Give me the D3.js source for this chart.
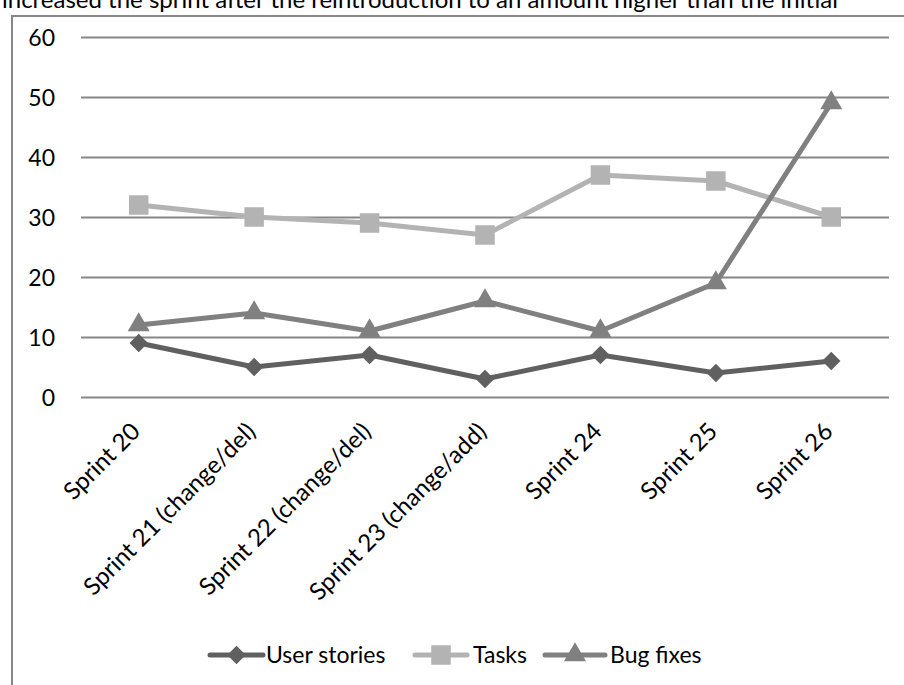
<!DOCTYPE html>
<html>
<head>
<meta charset="utf-8">
<script src="https://cdn.jsdelivr.net/npm/d3@7"></script>
<style>
  html, body { margin: 0; padding: 0; background: #fff; }
  svg { display: block; font-family: Lato, "Open Sans", sans-serif; }
</style>
</head>
<body>
<script>
// Work items completed per sprint
const sprints = ["Sprint 20", "Sprint 21 (change/del)", "Sprint 22 (change/del)",
  "Sprint 23 (change/add)", "Sprint 24", "Sprint 25", "Sprint 26"];
const userStories = [9, 5, 7, 3, 7, 4, 6];
const tasks = [32, 30, 29, 27, 37, 36, 30];
const bugFixes = [12, 14, 11, 16, 11, 19, 49];
const yTicks = [0, 10, 20, 30, 40, 50, 60];
const seriesNames = ["User stories", "Tasks", "Bug fixes"];

const W = 904, H = 685;
const FONT = "Lato, 'Open Sans', sans-serif";
const svg = d3.select("body").append("svg").attr("width", W).attr("height", H);

// running text above the figure, cut by the page edge
svg.append("text").attr("x", 2).attr("y", 8)
  .attr("font-size", 24).attr("fill", "#000")
  .text("increased the sprint after the reintroduction to an amount higher than the initial");

// figure frame
svg.append("rect").attr("x", 12).attr("y", 16).attr("width", 1000).attr("height", 800)
  .attr("fill", "none").attr("stroke", "#878787").attr("stroke-width", 2);

const x = d3.scaleBand().domain(sprints).range([81, 889]);
const y = d3.scaleLinear().domain([0, 60]).range([397, 37]);
const cx = d => x(d) + x.bandwidth() / 2;

// value axis with gridlines
const yAxis = d3.axisLeft(y).tickValues(yTicks).tickSize(-(889 - 81)).tickPadding(26);
const gy = svg.append("g").attr("transform", "translate(81,0)").call(yAxis);
gy.select(".domain").remove();
gy.selectAll(".tick line").attr("stroke", "#868686").attr("stroke-width", 2);
gy.selectAll(".tick text").attr("font-size", 23).attr("fill", "#000")
  .attr("font-family", FONT).attr("dy", "0.36em");

// category labels, slanted
const xAxis = d3.axisBottom(x).tickSize(0).tickPadding(0);
const gx = svg.append("g").attr("transform", "translate(0,397)").call(xAxis);
gx.select(".domain").remove();
gx.selectAll(".tick text")
  .attr("font-size", 24).attr("fill", "#000")
  .attr("font-family", FONT)
  .attr("text-anchor", "end")
  .attr("y", 0).attr("dy", 0)
  .attr("transform", "translate(3,36) rotate(-45)");

const series = [
  { name: seriesNames[0], values: userStories, color: "#606060", shape: d3.symbolSquare, size: 170, rot: 45 },
  { name: seriesNames[1], values: tasks, color: "#b3b3b3", shape: d3.symbolSquare, size: 380, rot: 0 },
  { name: seriesNames[2], values: bugFixes, color: "#808080", shape: d3.symbolTriangle, size: 210, rot: 0 }
];

const line = d3.line().x((d, i) => cx(sprints[i])).y(d => y(d));

// draw order: tasks, bug fixes, user stories
[series[1], series[2], series[0]].forEach(s => {
  svg.append("path").datum(s.values).attr("d", line)
    .attr("fill", "none").attr("stroke", s.color).attr("stroke-width", 5)
    .attr("stroke-linejoin", "round");
  const sym = d3.symbol().type(s.shape).size(s.size);
  svg.selectAll(null).data(s.values).enter().append("path")
    .attr("d", sym)
    .attr("transform", (d, i) => `translate(${cx(sprints[i])},${y(d)}) rotate(${s.rot})`)
    .attr("fill", s.color);
});

// legend
const legendItems = [
  { s: series[0], x0: 210, x1: 263, tx: 266 },
  { s: series[1], x0: 415, x1: 467, tx: 473 },
  { s: series[2], x0: 545, x1: 605, tx: 610 }
];
legendItems.forEach(({ s, x0, x1, tx }) => {
  const ly = 655;
  svg.append("line").attr("x1", x0).attr("x2", x1).attr("y1", ly).attr("y2", ly)
    .attr("stroke", s.color).attr("stroke-width", 5).attr("stroke-linecap", "round");
  const sym = d3.symbol().type(s.shape).size(s.size);
  svg.append("path").attr("d", sym)
    .attr("transform", `translate(${(x0 + x1) / 2},${ly}) rotate(${s.rot})`).attr("fill", s.color);
  svg.append("text").attr("x", tx).attr("y", ly).attr("dy", "0.36em")
    .attr("font-size", 23).attr("fill", "#000").text(s.name);
});
</script>
</body>
</html>
